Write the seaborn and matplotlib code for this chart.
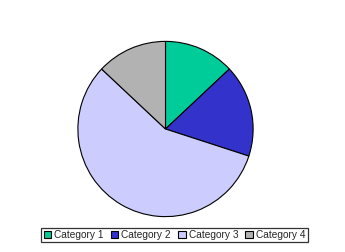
import matplotlib
matplotlib.use("Agg")
import matplotlib.pyplot as plt
import seaborn as sns
from matplotlib.patches import Patch

categories = ["Category 1", "Category 2", "Category 3", "Category 4"]
values = [13, 17, 57, 13]
colors = ["#00CC99", "#3333CC", "#CCCCFF", "#B2B2B2"]

sns.set_theme(style="white")
plt.rcParams["font.family"] = ["Liberation Sans", "DejaVu Sans"]

W, H = 345, 252
fig = plt.figure(figsize=(W / 100, H / 100), dpi=100)
fig.patch.set_facecolor("white")

cx, cy, r = 165.5, 129, 88.5
ax = fig.add_axes([(cx - r) / W, (H - cy - r) / H, 2 * r / W, 2 * r / H])
ax.pie(values, colors=colors, startangle=90, counterclock=False,
       wedgeprops=dict(edgecolor="black", linewidth=0.8), radius=1)
ax.set_xlim(-1.01, 1.01)
ax.set_ylim(-1.01, 1.01)
ax.set_aspect("equal")
ax.axis("off")

handles = [Patch(facecolor=c, edgecolor="black", linewidth=0.8) for c in colors]
leg = fig.legend(handles, categories, ncol=4, loc="center",
                 bbox_to_anchor=(174.5 / W, 1 - 235 / H),
                 fontsize=7.3, frameon=True, fancybox=False,
                 handlelength=0.75, handleheight=0.75, handletextpad=0.3,
                 columnspacing=0.7, borderpad=0.2, borderaxespad=0)
leg.get_frame().set_edgecolor("black")
leg.get_frame().set_linewidth(0.9)

fig.savefig("out.png", dpi=100)
